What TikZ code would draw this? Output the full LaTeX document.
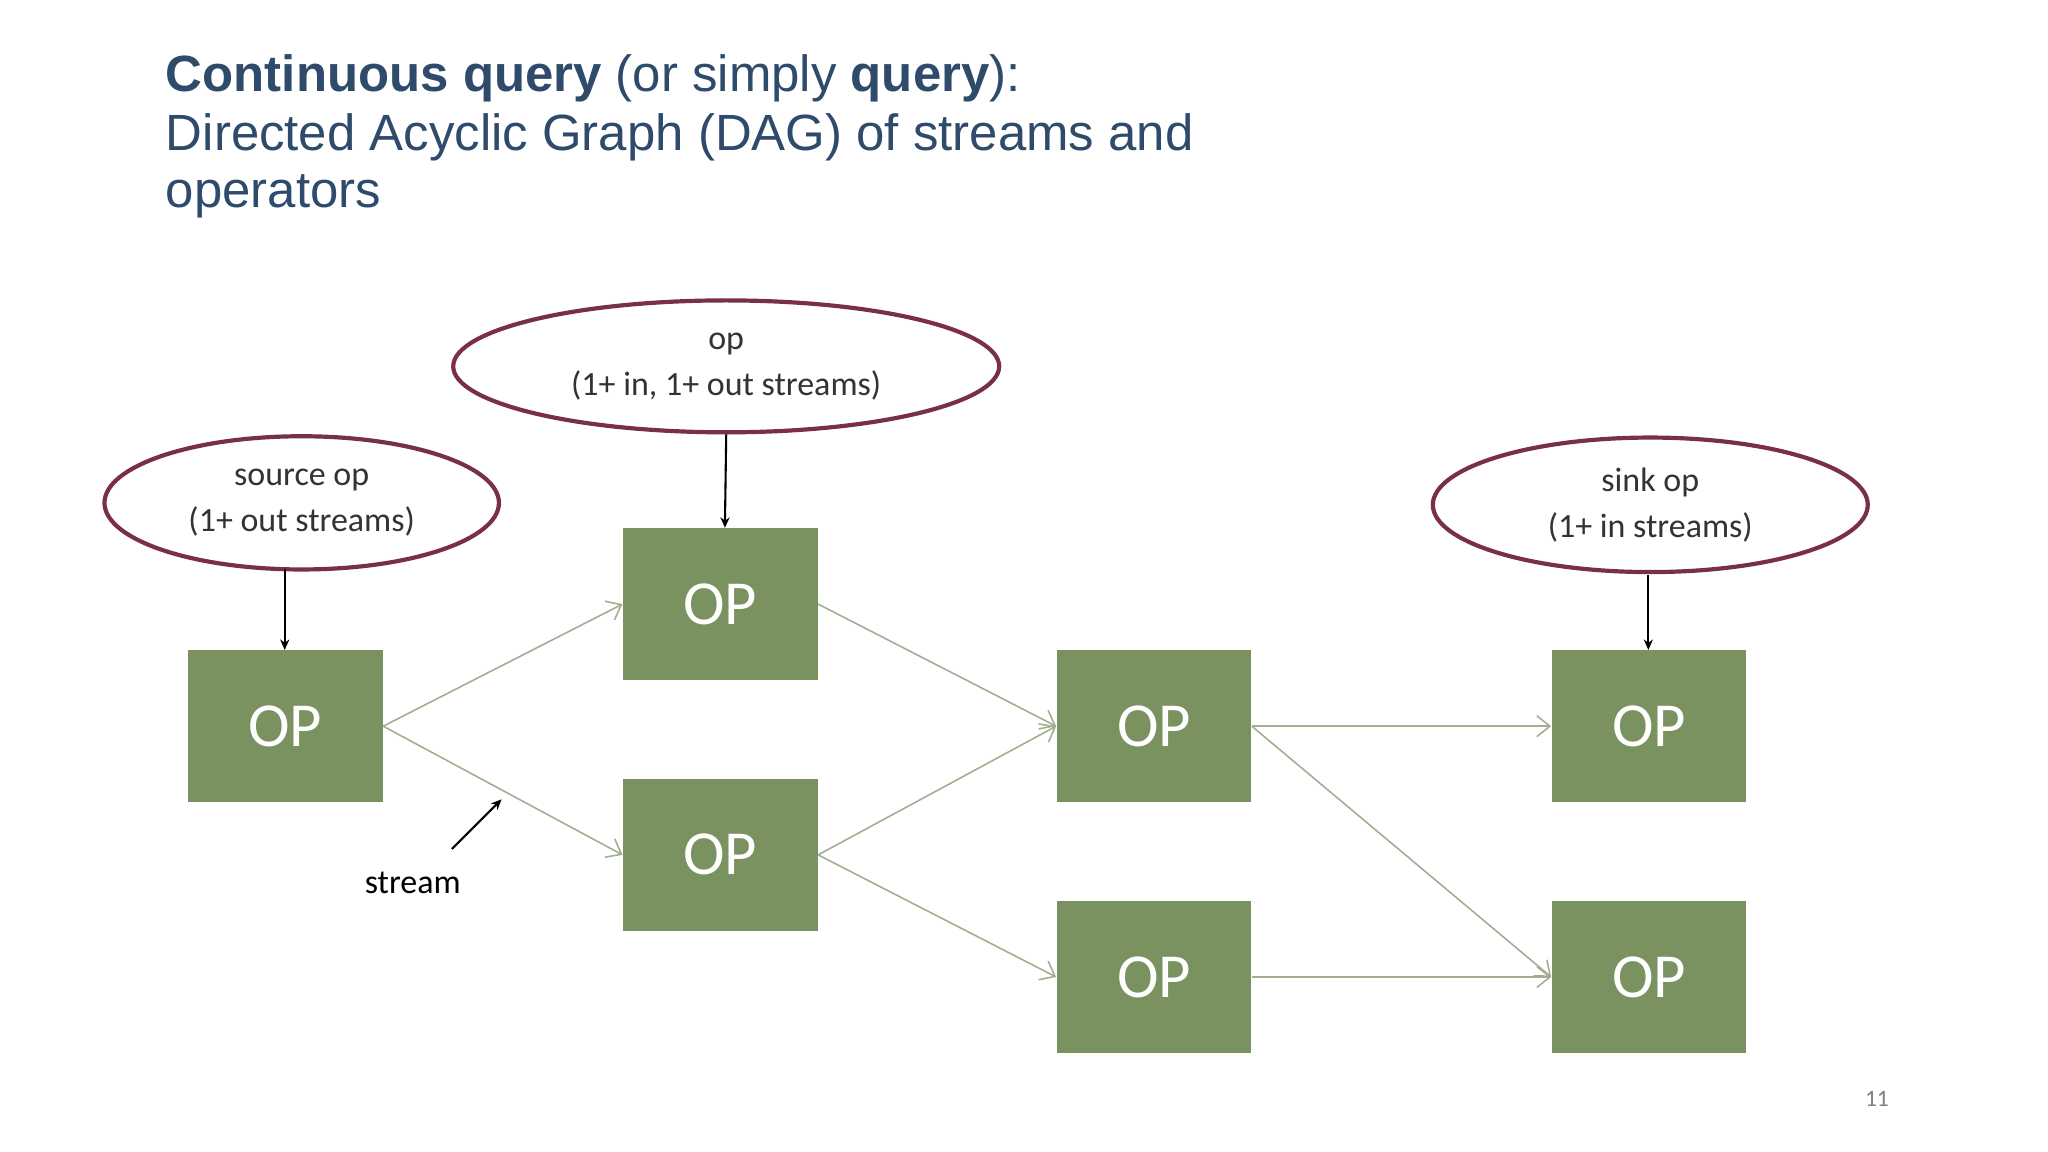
\documentclass[tikz,border=0pt]{standalone}
\usepackage{fontspec}
\setmainfont{Liberation Sans}
\newfontfamily\carl{Carlito}
\usetikzlibrary{shapes.geometric,arrows.meta}
\definecolor{opg}{HTML}{7A9160}
\definecolor{edg}{HTML}{A3AD8F}
\definecolor{ell}{HTML}{7A2E4E}
\definecolor{ttl}{HTML}{2F4B6C}
\begin{document}
\begin{tikzpicture}[x=0.5pt,y=-0.5pt,
 op/.style={fill=opg,draw=none,minimum width=74.5pt,minimum height=58pt,inner sep=0pt,text=white,font=\carl\fontsize{24}{28}\selectfont},
 el/.style={ellipse,draw=ell,line width=1.6pt,fill=white,inner sep=0pt,align=center,font=\carl\fontsize{13}{17.5}\selectfont,text=black!80},
 e/.style={draw=edg,line width=0.6pt,-{Straight Barb[length=5pt,width=8pt]}},
 b/.style={draw=black,line width=0.8pt,-{Stealth[length=4pt,width=3.5pt]}}]
\useasboundingbox[fill=white] (0,0) rectangle (1568,882);
\node[anchor=base west,text=ttl,align=left,font=\fontsize{19.5}{22}\selectfont] (t1) at (120,70) {\textbf{Continuous query} (or simply \textbf{query}):};
\node[anchor=base west,text=ttl,font=\fontsize{19.5}{22}\selectfont] (t2) at (120,115) {Directed Acyclic Graph (DAG) of streams and};
\node[anchor=base west,text=ttl,font=\fontsize{19.5}{22}\selectfont] (t3) at (120,159) {operators};
\node[op] (s) at (218.5,556) {OP};
\node[op] (a) at (551.5,462.5) {OP};
\node[op] (b) at (551.5,654.5) {OP};
\node[op] (c) at (883.5,556) {OP};
\node[op] (d) at (883.5,748) {OP};
\node[op] (f) at (1262.5,556) {OP};
\node[op] (g) at (1262.5,748) {OP};
\node[el,minimum width=151pt,minimum height=51pt] (es) at (231,385) {source op\\(1+ out streams)};
\node[el,minimum width=209pt,minimum height=50.5pt] (eo) at (556,280.5) {op\\(1+ in, 1+ out streams)};
\node[el,minimum width=166.5pt,minimum height=51.5pt] (ek) at (1263.5,386.5) {sink op\\(1+ in streams)};
\draw[b] (218,436) -- (s.north -| 218,0);
\draw[b] (eo.south) -- (a.north -| 555,0);
\draw[b] (1262,440) -- (f.north -| 1262,0);
\draw[e] (s.east) -- (a.west);
\draw[e] (s.east) -- (b.west);
\draw[e] (a.east) -- (c.west);
\draw[e] (b.east) -- (c.west);
\draw[e] (b.east) -- (d.west);
\draw[e] (c.east) -- (f.west);
\draw[e] (c.east) -- (g.west);
\draw[e] (d.east) -- (g.west);
\coordinate (st0) at (346,650);
\coordinate (st1) at (384,612);
\draw[b] (st0) -- (st1);
\node[font=\carl\fontsize{13}{16}\selectfont] (st) at (316,676) {stream};
\node[font=\carl\fontsize{9}{11}\selectfont,text=black!50] (pg) at (1437,841) {11};
\end{tikzpicture}
\end{document}
